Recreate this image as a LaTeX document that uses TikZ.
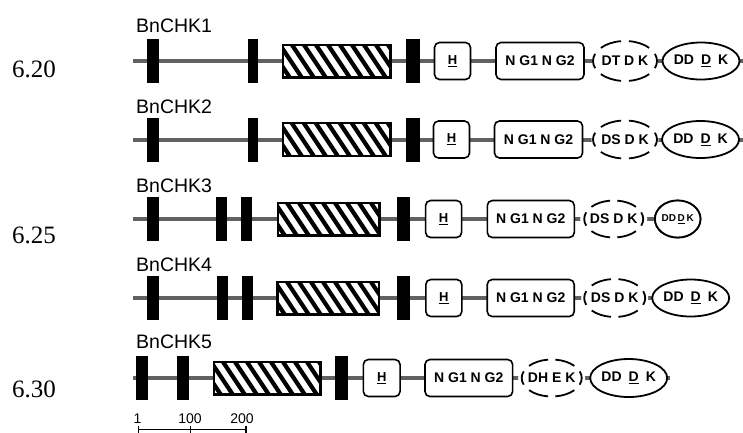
\documentclass[tikz,border=0pt]{standalone}
\usepackage{fontspec}
\setmainfont{Liberation Sans}
\newfontfamily\numfont{Liberation Serif}
\usetikzlibrary{shapes.geometric,calc}

\tikzset{
  backbone/.style={draw=black!62, line width=4pt},
  exon/.style={rectangle, fill=black, draw=none, inner sep=0pt, minimum height=44pt},
  tmbox/.style={rectangle, fill=white, draw=black, line width=1.5pt, inner sep=0pt, minimum height=32pt},
  stripe/.style={line width=4.2pt, black},
  dombox/.style={rectangle, rounded corners=5pt, fill=white, draw=black, line width=1.6pt,
    inner sep=0pt, minimum height=37pt, font=\fontsize{14}{16}\selectfont\bfseries},
  hbox/.style={dombox, minimum width=36pt, font=\fontsize{13}{15}\selectfont\bfseries},
  ringfill/.style={ellipse, fill=white, draw=none, inner sep=0pt,
    font=\fontsize{14}{16}\selectfont\bfseries},
  ringdash/.style={draw=black, line width=1.8pt},
  solidring/.style={ellipse, fill=white, draw=black, line width=1.8pt, inner sep=0pt,
    minimum height=37pt, font=\fontsize{14}{16}\selectfont\bfseries},
  genename/.style={anchor=base west, inner sep=0pt, font=\fontsize{19.5}{22}\selectfont},
  posnum/.style={anchor=base west, inner sep=0pt, font=\numfont\fontsize{25}{28}\selectfont},
  scaletxt/.style={anchor=base, inner sep=0pt, font=\fontsize{14}{16}\selectfont},
}

% six-piece broken outline round an ellipse node
\newcommand\dashring[3]{%
  \foreach \t in {0,62,118,180,242,298}{%
    \draw[ringdash] ($(#1.center)+({\t-21}:#2pt and #3pt)$)
      arc[start angle=\t-21, end angle=\t+21, x radius=#2pt, y radius=#3pt];}}

% diagonal hatching inside a rectangular node
\newcommand\hatchfill[1]{%
  \begin{scope}
    \clip (#1.south west) rectangle (#1.north east);
    \foreach \k in {-40,-28,...,140}{%
      \draw[stripe] ($(#1.north west)+(\k,-2)$) -- ++(24,36);}
  \end{scope}
  \draw[black, line width=1.5pt] (#1.south west) rectangle (#1.north east);}

\begin{document}
\begin{tikzpicture}[x=1pt, y=-1pt]
\useasboundingbox (0,0) rectangle (743,432);

% ---------- position labels ----------
\node[posnum] (p1) at (12,77) {6.20};
\node[posnum] (p2) at (12,243) {6.25};
\node[posnum] (p3) at (12,397) {6.30};

% ---------- BnCHK1 ----------
\node[genename] (n1) at (136,32) {BnCHK1};
\coordinate (a1s) at (133,61);
\coordinate (a1e) at (743,61);
\draw[backbone] (a1s) -- (a1e);
\node[exon, minimum width=12.3pt] (a1x1) at (153,61) {};
\node[exon, minimum width=10pt] (a1x2) at (253,61) {};
\node[tmbox, minimum width=107pt] (a1tm) at (336.5,61) {};
\hatchfill{a1tm}
\node[exon, minimum width=14pt] (a1x3) at (412.5,61) {};
\node[hbox] (a1h) at (452.5,61) {\underline{H}};
\node[dombox, minimum width=88pt] (a1ng) at (540,61) {N G1 N G2};
\node[ringfill, minimum width=64pt, minimum height=40pt] (a1d) at (625,61) {DT D K};
\dashring{a1d}{32}{20}
\node[solidring, minimum width=64pt] (a1k) at (701,61) {DD\hspace{0.5em}\underline{D}\hspace{0.5em}K};

% ---------- BnCHK2 ----------
\node[genename] (n2) at (136,113) {BnCHK2};
\coordinate (a2s) at (133,139.5);
\coordinate (a2e) at (743,139.5);
\draw[backbone] (a2s) -- (a2e);
\node[exon, minimum width=12.3pt] (a2x1) at (153,139.5) {};
\node[exon, minimum width=10pt] (a2x2) at (253,139.5) {};
\node[tmbox, minimum width=107pt] (a2tm) at (336.5,139.5) {};
\hatchfill{a2tm}
\node[exon, minimum width=14pt] (a2x3) at (412.5,139.5) {};
\node[hbox] (a2h) at (451.5,139.5) {\underline{H}};
\node[dombox, minimum width=88pt] (a2ng) at (538.5,139.5) {N G1 N G2};
\node[ringfill, minimum width=64pt, minimum height=38pt] (a2d) at (625,139.5) {DS D K};
\dashring{a2d}{32}{19}
\node[solidring, minimum width=65pt] (a2k) at (700.5,139.5) {DD\hspace{0.5em}\underline{D}\hspace{0.5em}K};

% ---------- BnCHK3 ----------
\node[genename] (n3) at (136,192) {BnCHK3};
\coordinate (a3s) at (133,219);
\node[solidring, minimum width=43.5pt, font=\fontsize{10}{12}\selectfont\bfseries] (a3k) at (677.7,219) {DD\,\underline{D}\,K};
\draw[backbone] (a3s) -- (a3k.west);
\node[exon, minimum width=11.6pt] (a3x1) at (152.7,219) {};
\node[exon, minimum width=11pt] (a3x2) at (221.5,219) {};
\node[exon, minimum width=11.5pt] (a3x3) at (246.7,219) {};
\node[tmbox, minimum width=101pt] (a3tm) at (328.5,219) {};
\hatchfill{a3tm}
\node[exon, minimum width=13pt] (a3x4) at (403,219) {};
\node[hbox] (a3h) at (443.6,219) {\underline{H}};
\node[dombox, minimum width=87pt] (a3ng) at (530.8,219) {N G1 N G2};
\node[ringfill, minimum width=59pt, minimum height=37pt] (a3d) at (613.7,219) {DS D K};
\dashring{a3d}{29.5}{18.5}
\node[solidring, minimum width=43.5pt, font=\fontsize{10}{12}\selectfont\bfseries] at (a3k) {DD\,\underline{D}\,K};

% ---------- BnCHK4 ----------
\node[genename] (n4) at (136,271) {BnCHK4};
\coordinate (a4s) at (133,298);
\coordinate (a4e) at (727,298);
\draw[backbone] (a4s) -- (a4e);
\node[exon, minimum width=12pt] (a4x1) at (153,298) {};
\node[exon, minimum width=11pt] (a4x2) at (222.5,298) {};
\node[exon, minimum width=11.5pt] (a4x3) at (247.3,298) {};
\node[tmbox, minimum width=100.5pt] (a4tm) at (328.2,298) {};
\hatchfill{a4tm}
\node[exon, minimum width=13pt] (a4x4) at (403.5,298) {};
\node[hbox] (a4h) at (443.8,298) {\underline{H}};
\node[dombox, minimum width=87pt] (a4ng) at (530.7,298) {N G1 N G2};
\node[ringfill, minimum width=61pt, minimum height=38pt] (a4d) at (614.7,298) {DS D K};
\dashring{a4d}{30.5}{19}
\node[solidring, minimum width=65pt] (a4k) at (690.7,298) {DD\hspace{0.5em}\underline{D}\hspace{0.5em}K};

% ---------- BnCHK5 ----------
\node[genename] (n5) at (136,348) {BnCHK5};
\coordinate (a5s) at (133,378);
\coordinate (a5e) at (670,378);
\draw[backbone] (a5s) -- (a5e);
\node[exon, minimum width=12.3pt] (a5x1) at (142.2,378) {};
\node[exon, minimum width=12pt] (a5x2) at (183.3,378) {};
\node[tmbox, minimum width=106pt] (a5tm) at (267,378) {};
\hatchfill{a5tm}
\node[exon, minimum width=13.3pt] (a5x3) at (341.7,378) {};
\node[hbox, minimum width=36.7pt] (a5h) at (381.7,378) {\underline{H}};
\node[dombox, minimum width=87.7pt] (a5ng) at (468.8,378) {N G1 N G2};
\node[ringfill, minimum width=60pt, minimum height=37pt] (a5d) at (551.7,378) {DH E K};
\dashring{a5d}{30}{18.5}
\node[solidring, minimum width=69pt, minimum height=38pt] (a5k) at (628.7,378) {DD\hspace{0.5em}\underline{D}\hspace{0.5em}K};

% ---------- scale bar ----------
\coordinate (s0) at (138.5,429.5);
\coordinate (s1) at (190.5,429.5);
\coordinate (s2) at (246,429.5);
\draw[line width=1.6pt] (s0) -- (s2);
\foreach \c in {s0,s1,s2}{\draw[line width=1.6pt] ($(\c)+(0,-4)$) -- ($(\c)+(0,3)$);}
\node[scaletxt] (t0) at (137.5,423) {1};
\node[scaletxt] (t1) at (190,423) {100};
\node[scaletxt] (t2) at (242,423) {200};
\end{tikzpicture}
\end{document}
